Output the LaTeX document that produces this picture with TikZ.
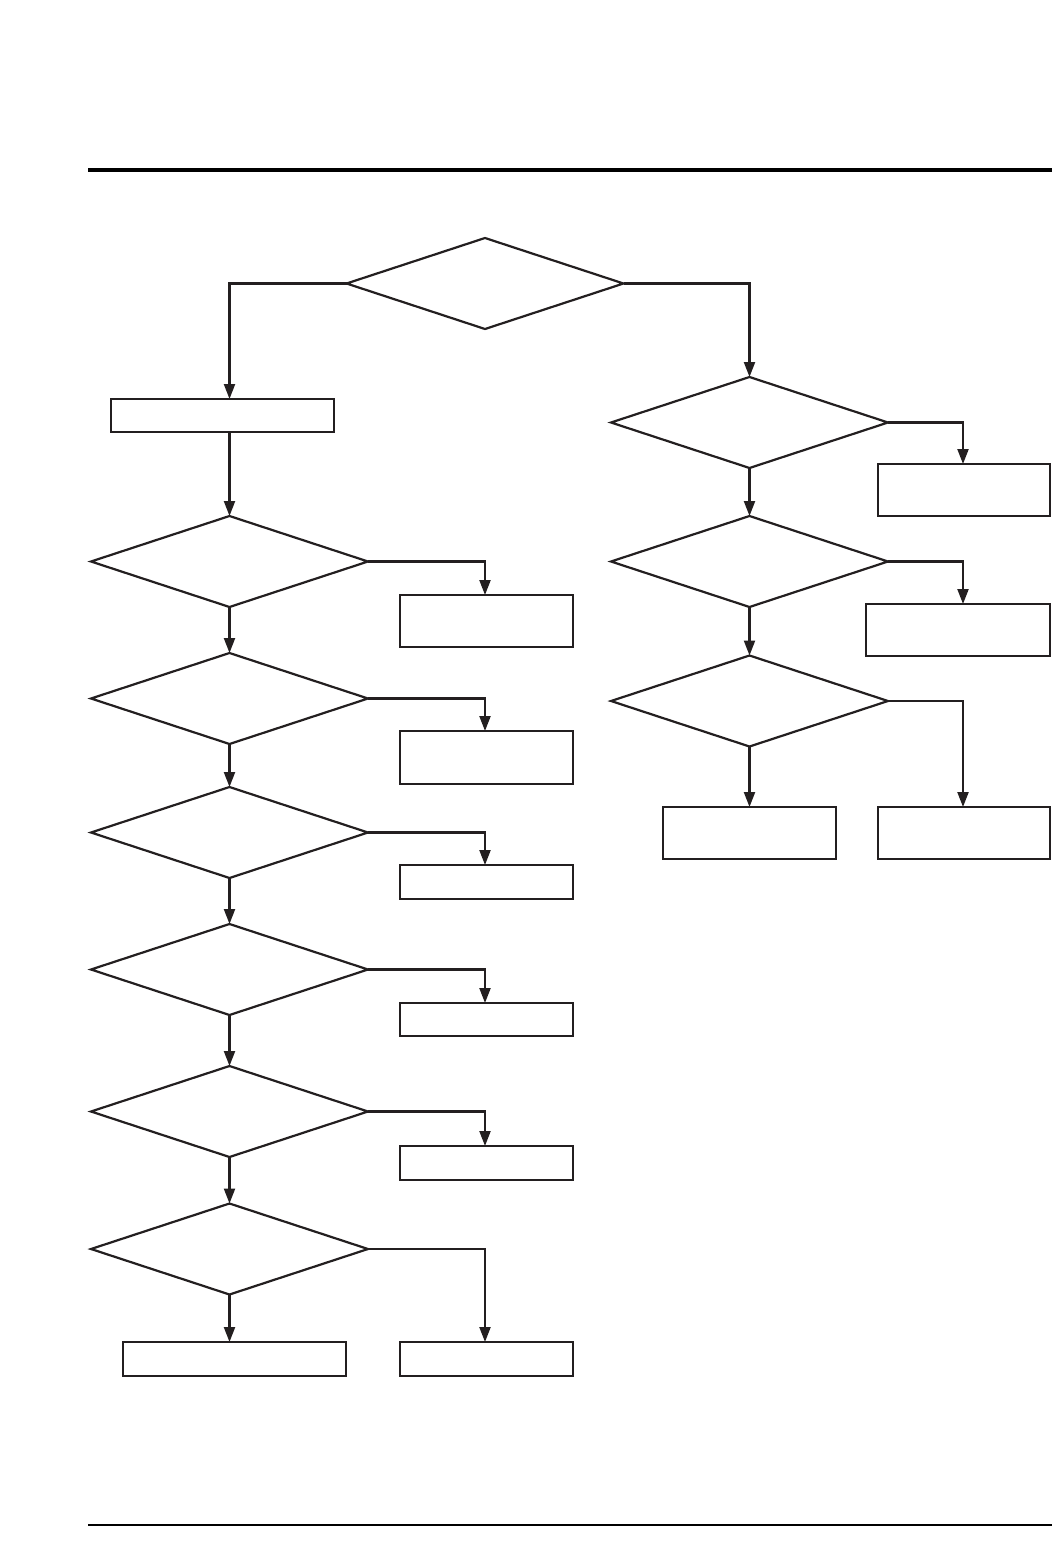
\documentclass[tikz,border=0pt]{standalone}
\usepackage{tikz}
\usetikzlibrary{arrows.meta,positioning,shapes.geometric,calc}
\definecolor{ink}{RGB}{35,31,32}

\tikzset{
  decision/.style={diamond, draw=ink, line width=2.2pt, inner sep=0pt, outer sep=0pt,
    minimum width=277pt, minimum height=91pt, aspect=3.04},
  action/.style={rectangle, draw=ink, line width=2.2pt, inner sep=0pt, outer sep=0pt,
    minimum width=173pt},
  flow/.style={draw=ink, line width=2.2pt, -{Triangle[length=15pt,width=11pt]}},
}

\begin{document}
\begin{tikzpicture}[x=1pt,y=-1pt]
        \useasboundingbox (0,0) rectangle (1052,1563);
        % page rules
        \fill[black] (88,168) rectangle (1052,172);
        \fill[black] (88,1524) rectangle (1052,1526);

        % top decision
        \node[decision] (top) at (485,283.5) {};

        % left branch
        \node[action, minimum width=223pt, minimum height=33pt] (l0) at (222.5,415.5) {};
        \foreach \i/\dy/\by/\bh in {1/561.5/621/52, 2/698.5/757.5/53, 3/832.5/882/34,
                                    4/969.5/1019.5/33, 5/1111.5/1163/34, 6/1249/1359/34}{
            \node[decision] (l\i) at (229.5,\dy) {};
            \node[action, minimum height=\bh pt] (b\i) at (486.5,\by) {};
        }
        \node[action, minimum width=223pt, minimum height=34pt] (b6a) at (234.5,1359) {};

        % right branch
        \node[decision] (r1) at (749.5,422.5) {};
        \node[decision] (r2) at (749.5,561.5) {};
        \node[decision] (r3) at (749.5,701) {};
        \node[action, minimum width=172pt, minimum height=52pt] (c1) at (964,490) {};
        \node[action, minimum width=184pt, minimum height=52pt] (c2) at (958,630) {};
        \node[action, minimum height=52pt] (c3) at (749.5,833) {};
        \node[action, minimum width=172pt, minimum height=52pt] (c4) at (964,833) {};

        % connectors
        \draw[flow] (top.west) -| (l0.north -| l1);
        \draw[flow] (top.east) -| (r1.north);
        \draw[flow] (l0.north -| l1) ++(0,33) -- (l1.north);
        \foreach \i/\j in {1/2, 2/3, 3/4, 4/5, 5/6}{
            \draw[flow] (l\i.south) -- (l\j.north);
        }
        \foreach \i in {1,...,6}{
            \draw[flow] (l\i.east) -| (b\i.north -| 485,0);
        }
        \draw[flow] (l6.south) -- (b6a.north -| l6);
        \draw[flow] (r1.south) -- (r2.north);
        \draw[flow] (r2.south) -- (r3.north);
        \draw[flow] (r1.east) -| (c1.north -| 963,0);
        \draw[flow] (r2.east) -| (c2.north -| 963,0);
        \draw[flow] (r3.east) -| (c4.north -| 963,0);
        \draw[flow] (r3.south) -- (c3.north -| r3);
    \end{tikzpicture}
\end{document}
